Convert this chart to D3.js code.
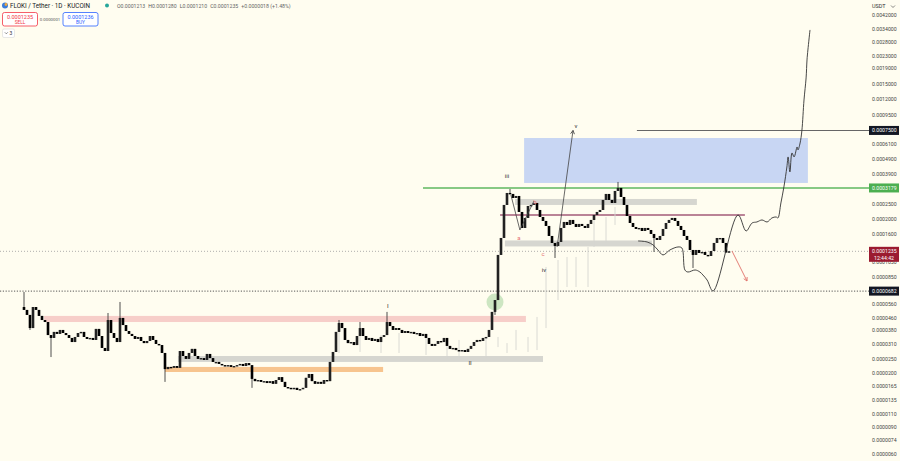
<!DOCTYPE html>
<html><head><meta charset="utf-8">
<script src="https://cdn.jsdelivr.net/npm/d3@7"></script>
<style>
html,body{margin:0;padding:0;background:#fffdf0;}
svg{display:block;font-family:Roboto,"Liberation Sans",sans-serif;}
</style></head><body>
<svg id="chart" width="900" height="461"></svg>
<script>
// All prices in units of 0.00001 USDT (FLOKI / Tether, 1D, KuCoin)
const firstOpen = 5.38;
const closes = [
 5.15,4.78,3.93,5.38,5.15,4.71,4.43,4.30,3.54,3.39,
 3.71,3.60,3.82,3.65,3.54,3.39,3.19,3.44,3.65,3.71,
 3.44,3.34,3.39,3.29,3.88,3.49,2.92,2.79,4.43,3.65,
 3.39,3.19,4.57,4.11,3.76,3.60,3.49,3.34,3.44,3.24,
 3.14,3.24,3.49,3.29,3.10,3.05,2.71,2.13,2.20,2.17,
 2.23,2.17,2.79,2.59,2.48,2.71,2.88,2.59,2.48,2.51,
 2.44,2.67,2.51,2.37,2.37,2.30,2.26,2.23,2.26,2.20,
 2.23,2.26,2.30,2.23,2.33,2.26,1.84,1.78,1.81,1.76,
 1.78,1.73,1.78,1.71,1.81,1.89,1.76,1.63,1.61,1.58,
 1.61,1.56,1.58,1.61,1.87,1.98,1.78,1.71,1.76,1.71,
 1.81,1.78,2.37,2.75,3.71,4.24,3.93,3.29,3.14,3.19,
 3.05,3.49,3.93,3.49,3.29,3.39,3.24,3.34,3.19,3.44,
 3.54,4.30,4.05,3.82,3.93,3.82,3.65,3.76,3.65,3.71,
 3.60,3.65,3.49,3.60,3.39,3.10,3.01,3.10,3.24,3.19,
 3.39,3.01,2.88,2.92,2.83,2.79,2.83,2.75,2.88,3.01,
 3.19,3.29,3.24,3.39,3.44,3.82,5.00,5.97,11.70,15.07,
 24.67,29.50,29.07,27.38,28.21,22.22,17.50,20.32,24.30,24.67,
 25.41,22.89,20.62,19.43,18.03,15.53,13.99,13.38,14.20,17.50,
 19.14,18.30,19.72,18.58,17.76,18.58,18.03,17.50,18.58,19.72,
 21.25,22.22,22.89,26.58,29.07,26.58,25.41,30.40,31.79,27.79,
 24.67,20.93,18.85,17.76,17.24,17.50,16.73,17.50,16.98,16.00,
 15.07,14.63,15.53,17.24,18.85,19.72,20.32,19.43,18.03,16.98,
 15.53,14.63,12.60,11.70,12.60,12.05,12.23,11.70,11.52,12.41,
 13.99,15.07,15.07,13.99,12.13,12.35
];
// [bar, high, low] long wicks
const spikes = [
 [0,6.73,null],[2,null,3.82],[9,null,2.55],[28,4.92,null],[32,5.80,null],
 [47,null,1.76],[76,null,1.61],[105,4.43,null],[112,4.30,null],[121,5.00,null],
 [157,null,4.78],[162,31.32,null],[177,null,11.18],[198,34.77,null],
 [210,null,12.23],[223,null,9.63]
];
// ghost-feed faint bars [bar, high, low]
const ghostBars = [
 [105,3.82,2.71],[112,3.82,2.75],[119,3.54,2.71],[125,3.65,2.71],[134,3.44,2.63],
 [141,3.19,2.51],[145,3.29,2.44],[154,3.44,2.55],[158,3.44,2.96],[161,3.14,2.71],
 [164,3.82,2.83],[168,3.44,2.75],[171,4.64,2.83],[174,9.78,3.93],[178,10.85,5.97],
 [181,11.35,7.25],[184,11.35,7.25],[188,13.18,7.25],[190,19.72,13.18],
 [194,20.62,13.99],[197,23.94,18.30]
];
// price axis
const tickValues = [420,340,280,230,190,150,120,95,61,49,39,25,20,16,10.5,8.5,5.6,4.6,3.8,3.1,2.5,2.0,1.65,1.35,1.10,0.90,0.74,0.60];
const tickLabels = ["0.0042000","0.0034000","0.0028000","0.0023000","0.0019000","0.0015000","0.0012000","0.0009500","0.0006100","0.0004900","0.0003900","0.0002500","0.0002000","0.0001600","0.0001050","0.0000850","0.0000560","0.0000460","0.0000380","0.0000310","0.0000250","0.0000200","0.0000165","0.0000135","0.0000110","0.0000090","0.0000074","0.0000060"];
// drawings: zones [fromBar, toBar, topPrice, bottomPrice, kind]
const zones = [
 [166.7,261.3,67.0,34.26,"target"],
 [163.7,224.3,26.98,24.67,"gray"],
 [160.3,209.3,14.52,13.28,"gray"],
 [51.3,173.0,2.59,2.37,"gray"],
 [6.7,167.3,4.71,4.30,"pink"],
 [47.0,119.7,2.20,2.04,"orange"]
];
// horizontal lines [fromBar, price, kind, toBar]
const hLines = [
 [133.0,31.79,"green"],
 [204.3,75.0,"dark"],
 [158.7,21.25,"maroon",240.3]
];
const lastPrice = 12.35, levelLine = 6.82;
const priceTags = [
 [75.0,"0.0007500","dark"],
 [31.79,"0.0003179","green"],
 [6.82,"0.0000682","dark"]
];
const countdown = "12:44:42";
// wave a-b V and v-arrow
const abBars = [162.3,165.3,170.0], abPrices = [28.64,16.98,26.18];
const vBars = [177.7,183.0], vPrices = [13.18,75.0];
const projBars = [204.7,207.7,209.7,211.3,213,215.3,218,219.3,220.3,221.3,223.7,225.3,226.3,227.7,229.7,238,240.7,242.7,244.3,246,247.7,249.3,250.7,251.3,252.3,253.3,254.3,254.7,255.3,256,256.7,257.7,258,258.7,259.3,260,260.7,261,261.3,262];
const projPrices = [14.41,14.20,13.58,12.60,11.70,12.60,13.18,12.98,9.35,9.07,9.35,9.07,8.68,8.05,6.83,21.25,16.73,18.85,19.14,19.72,19.14,20.32,20.62,20.32,25.41,32.27,43.49,50.5,40.37,53.6,50.5,58.6,56.1,62.2,75.0,118.2,164.2,214.7,249.3,336];
const redArrowBars = [236,241], redArrowPrices = [12.41,7.93];
const waveLabels = [
 ["iii",161,38.0,"d"],["v",184,80.2,"d"],["iv",173.3,9.35,"d"],["I",121.3,5.45,"d"],["II",148.7,2.33,"d"],
 ["a",165,15.07,"r"],["b",170.3,25.8,"r"],["c",173,11.88,"r"]
];
const circleBar = 157, circlePrice = 5.80;

const svg = d3.select("#chart");
const W = 900, H = 461, plotRight = 869;
const x = d3.scaleLinear().domain([0, 272]).range([24, 840]);
const y = d3.scaleLog().domain([0.60, 420]).range([454, 15]);

svg.append("rect").attr("width",W).attr("height",H).attr("fill","#fffdf0");
svg.append("defs").append("clipPath").attr("id","plot").append("rect").attr("x",0).attr("y",0).attr("width",plotRight).attr("height",H);
const g = svg.append("g").attr("clip-path","url(#plot)");

const zoneFill = {target:"#c8d6f3", gray:"#d6d6d0", pink:"#f7cec9", orange:"#f7c48e"};
g.selectAll("rect.zone").data(zones).join("rect").attr("class","zone")
 .attr("x",d=>x(d[0])).attr("width",d=>x(d[1])-x(d[0]))
 .attr("y",d=>y(d[2])).attr("height",d=>y(d[3])-y(d[2]))
 .attr("fill",d=>zoneFill[d[4]]);

// dotted lines
g.append("line").attr("x1",0).attr("x2",plotRight).attr("y1",y(lastPrice)).attr("y2",y(lastPrice))
 .attr("stroke","#9a9a9a").attr("stroke-width",0.8).attr("stroke-dasharray","1,2");
g.append("line").attr("x1",0).attr("x2",plotRight).attr("y1",y(levelLine)).attr("y2",y(levelLine))
 .attr("stroke","#555").attr("stroke-width",1).attr("stroke-dasharray","1.2,1.6");

// horizontal drawn lines
const hStyle = {green:["#5fb760",1.6], dark:["#666",1.1], maroon:["#a35a78",1.6]};
hLines.forEach(d=>{
  g.append("line").attr("x1",x(d[0])).attr("x2",d[3]!==undefined?x(d[3]):plotRight)
   .attr("y1",y(d[1])).attr("y2",y(d[1]))
   .attr("stroke",hStyle[d[2]][0]).attr("stroke-width",hStyle[d[2]][1]);
});

// ghost bars
g.selectAll("line.ghost").data(ghostBars).join("line").attr("class","ghost")
 .attr("x1",d=>x(d[0])).attr("x2",d=>x(d[0])).attr("y1",d=>y(d[1])).attr("y2",d=>y(d[2]))
 .attr("stroke","#d6d6d0").attr("stroke-width",0.9);

// green circle
g.append("circle").attr("cx",x(circleBar)).attr("cy",y(circlePrice)).attr("r",8.5).attr("fill","rgba(90,180,90,0.3)");

// candles
const spikeMap = new Map(spikes.map(s=>[s[0],s]));
const bars = closes.map((c,i)=>{
  const o = i===0 ? firstOpen : closes[i-1];
  let hi = Math.max(o,c), lo = Math.min(o,c);
  const s = spikeMap.get(i);
  if (s){ if(s[1]!=null) hi=Math.max(hi,s[1]); if(s[2]!=null) lo=Math.min(lo,s[2]); }
  return {i,o,c,hi,lo};
});
const cg = g.append("g");
cg.selectAll("line").data(bars).join("line")
 .attr("x1",d=>x(d.i)).attr("x2",d=>x(d.i)).attr("y1",d=>y(d.hi)).attr("y2",d=>y(d.lo))
 .attr("stroke","#3a3a3a").attr("stroke-width",0.9);
cg.selectAll("rect").data(bars).join("rect")
 .attr("x",d=>x(d.i)-1.3).attr("width",2.6)
 .attr("y",d=>y(Math.max(d.o,d.c))).attr("height",d=>Math.max(1.4,y(Math.min(d.o,d.c))-y(Math.max(d.o,d.c))))
 .attr("fill",d=>d.c>=d.o?"#222":"#000");

// thin wave lines
const lineGen = d3.line().x(d=>x(d[0])).y(d=>y(d[1]));
g.append("path").datum(abBars.map((b,i)=>[b,abPrices[i]])).attr("d",lineGen)
 .attr("fill","none").attr("stroke","#444").attr("stroke-width",0.8);
g.append("path").datum(vBars.map((b,i)=>[b,vPrices[i]])).attr("d",lineGen)
 .attr("fill","none").attr("stroke","#444").attr("stroke-width",0.8);
const curveGen = d3.line().x(d=>x(d[0])).y(d=>y(d[1])).curve(d3.curveCatmullRom.alpha(0.5));
g.append("path").datum(projBars.map((b,i)=>[b,projPrices[i]])).attr("d",curveGen)
 .attr("fill","none").attr("stroke","#333").attr("stroke-width",0.9);
g.append("path").datum(redArrowBars.map((b,i)=>[b,redArrowPrices[i]])).attr("d",lineGen)
 .attr("fill","none").attr("stroke","#e0706a").attr("stroke-width",0.9);

function arrowHead(x0,y0,x1,y1,color){
  const a = Math.atan2(y1-y0,x1-x0), L=4, s=0.5;
  const p = [[x1-L*Math.cos(a-s), y1-L*Math.sin(a-s)],[x1,y1],[x1-L*Math.cos(a+s), y1-L*Math.sin(a+s)]];
  g.append("path").attr("d",d3.line()(p)).attr("fill","none").attr("stroke",color).attr("stroke-width",0.9);
}
arrowHead(x(vBars[0]),y(vPrices[0]),x(vBars[1]),y(vPrices[1]),"#444");
arrowHead(x(redArrowBars[0]),y(redArrowPrices[0]),x(redArrowBars[1]),y(redArrowPrices[1]),"#e0706a");

// wave labels
g.selectAll("text.wave").data(waveLabels).join("text").attr("class","wave")
 .attr("x",d=>x(d[1])).attr("y",d=>y(d[2])).attr("dy","0.35em").attr("text-anchor","middle")
 .attr("font-size",6).attr("fill",d=>d[3]==="r"?"#e57373":"#333").text(d=>d[0]);

// price axis
const axis = d3.axisRight(y).tickValues(tickValues).tickFormat((d,i)=>tickLabels[i]).tickSize(0).tickPadding(0);
const ag = svg.append("g").attr("transform","translate(872,0)").call(axis);
ag.select(".domain").remove();
ag.selectAll("text").attr("font-size",5.2).attr("fill","#444").attr("font-family","Roboto, 'Liberation Sans', sans-serif");

// price tags
const tagFill = {dark:"#131722", green:"#4caf50"};
priceTags.forEach(d=>{
  const yy = y(d[0]);
  svg.append("rect").attr("x",869).attr("y",yy-4.5).attr("width",30).attr("height",9).attr("fill",tagFill[d[2]]);
  svg.append("text").attr("x",872).attr("y",yy).attr("dy","0.35em").attr("font-size",5.2).attr("fill","#fff").text(d[1]);
});
{
  const yy = y(lastPrice);
  svg.append("rect").attr("x",869).attr("y",yy-4.5).attr("width",30).attr("height",15).attr("fill","#9b1b30");
  svg.append("text").attr("x",872).attr("y",yy).attr("dy","0.35em").attr("font-size",5.2).attr("fill","#fff").text("0.0001235");
  svg.append("text").attr("x",874).attr("y",yy+6.5).attr("dy","0.35em").attr("font-size",5.2).attr("fill","#fff").text(countdown);
}

// top-right currency
svg.append("rect").attr("x",868).attr("y",0).attr("width",32).attr("height",12).attr("fill","#fffdf0");
svg.append("text").attr("x",872).attr("y",8).attr("font-size",5.5).attr("fill","#333").text("USDT");
svg.append("path").attr("d","M891,5.5 L893,7.5 L895,5.5").attr("fill","none").attr("stroke","#555").attr("stroke-width",0.7);

// header
svg.append("circle").attr("cx",5).attr("cy",5.5).attr("r",3).attr("fill","#3b7dd8");
svg.append("circle").attr("cx",6).attr("cy",4.5).attr("r",1.4).attr("fill","#f2a93b");
svg.append("text").attr("x",10).attr("y",8).attr("font-size",6.3).attr("fill","#131722").text("FLOKI / Tether · 1D · KUCOIN");
svg.append("circle").attr("cx",107).attr("cy",5.5).attr("r",2).attr("fill","#26a69a");
const ohlc = [["O","0.0001213"],["H","0.0001280"],["L","0.0001210"],["C","0.0001235"]];
const ht = svg.append("text").attr("x",117).attr("y",8).attr("font-size",5.2).attr("fill","#555");
ohlc.forEach((d,i)=>{ ht.append("tspan").attr("dx",i?3:0).text(d[0]); ht.append("tspan").attr("fill","#666").text(d[1]); });
ht.append("tspan").attr("dx",3).attr("fill","#666").text("+0.0000018 (+1.48%)");

function tradeBox(x0,color,price,label){
  svg.append("rect").attr("x",x0).attr("y",12.5).attr("width",35).attr("height",13.5).attr("rx",2)
   .attr("fill","#fff").attr("stroke",color).attr("stroke-width",0.8);
  svg.append("text").attr("x",x0+17.5).attr("y",18.5).attr("text-anchor","middle").attr("font-size",5.5).attr("fill",color).text(price);
  svg.append("text").attr("x",x0+17.5).attr("y",24.3).attr("text-anchor","middle").attr("font-size",4.8).attr("fill",color).text(label);
}
tradeBox(2.5,"#f23645","0.0001235","SELL");
tradeBox(63,"#2962ff","0.0001236","BUY");
svg.append("text").attr("x",50).attr("y",20.5).attr("text-anchor","middle").attr("font-size",4.3).attr("fill","#555").text("0.0000001");
svg.append("rect").attr("x",2.5).attr("y",29).attr("width",12).attr("height",8.5).attr("rx",1.5).attr("fill","#fff").attr("stroke","#d8d8d8").attr("stroke-width",0.6);
svg.append("path").attr("d","M4.8,32.3 L6.3,33.8 L7.8,32.3").attr("fill","none").attr("stroke","#444").attr("stroke-width",0.6);
svg.append("text").attr("x",9.5).attr("y",35.3).attr("font-size",5).attr("fill","#333").text("3");
</script>
</body></html>
